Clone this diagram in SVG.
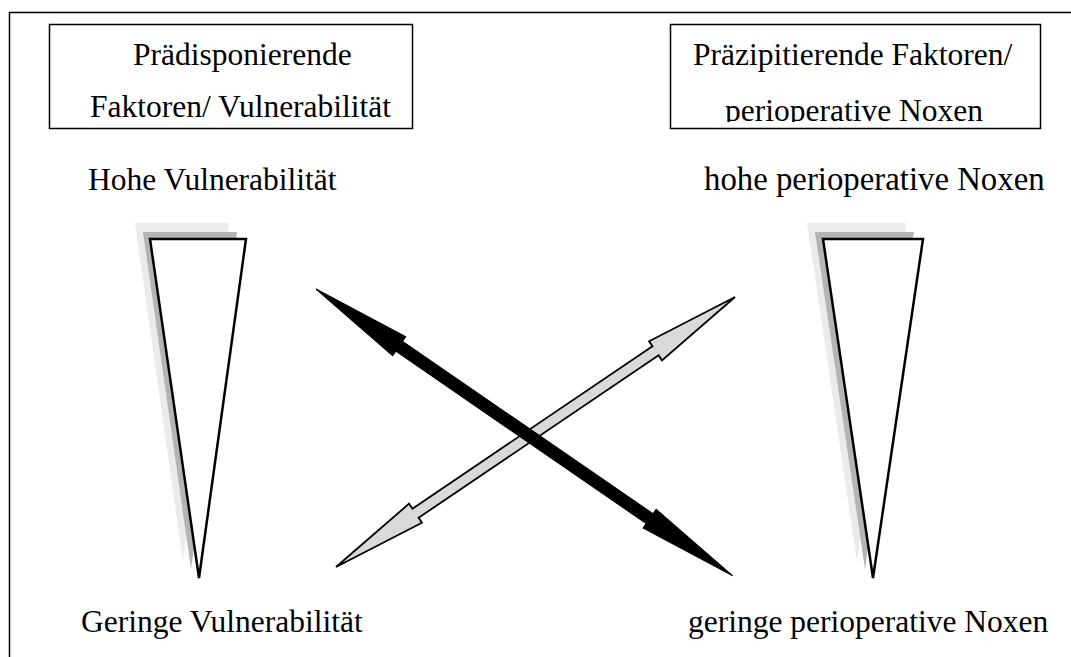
<svg xmlns="http://www.w3.org/2000/svg" width="1071" height="657" viewBox="0 0 1071 657">
<style>
text{font-family:"Liberation Serif","Times New Roman",serif;font-size:31.5px;fill:#000}
.box{fill:#fff;stroke:#000;stroke-width:1.5}
.tri{fill:#fff;stroke:#000;stroke-width:2.5;stroke-linejoin:miter}
.sh1{fill:#ebebeb}
.sh2{fill:#b4b4b4}
.blk{fill:#000;stroke:#000;stroke-width:1}
.gry{fill:#d9d9d9;stroke:#000;stroke-width:1.8;stroke-linejoin:miter}
</style>
<defs>
<clipPath id="clipR"><rect x="671" y="25" width="369" height="97"/></clipPath>
</defs>
<rect width="1071" height="657" fill="#fff"/>
<g id="frame">
<polyline points="9.5,657 9.5,12.5 1071,12.5" fill="none" stroke="#000" stroke-width="1.5"/>
</g>
<g id="box-left">
<rect class="box" x="49.5" y="24.5" width="363" height="104"/>
<text x="133" y="65">Prädisponierende</text>
<text x="90" y="117">Faktoren/ Vulnerabilität</text>
</g>
<g id="box-right">
<rect class="box" x="670.5" y="24.5" width="370" height="104"/>
<text x="693" y="65">Präzipitierende Faktoren/</text>
<text x="725" y="121" clip-path="url(#clipR)">perioperative Noxen</text>
</g>
<g id="label-hohe-vuln"><text x="88" y="190">Hohe Vulnerabilität</text></g>
<g id="label-geringe-vuln"><text x="81" y="632">Geringe Vulnerabilität</text></g>
<g id="label-hohe-nox"><text x="704" y="190" style="font-size:32.8px">hohe perioperative Noxen</text></g>
<g id="label-geringe-nox"><text x="688" y="632">geringe perioperative Noxen</text></g>
<g id="wedge-left">
<polygon class="sh1" points="135,223 229,223 183,562"/>
<polygon class="sh2" points="143,232 237,232 191,569"/>
<polygon class="tri" points="150,239 246,239 199,578"/>
</g>
<g id="wedge-right">
<polygon class="sh1" points="807,223 906,223 857,562"/>
<polygon class="sh2" points="815,232 914,232 865,569"/>
<polygon class="tri" points="823,239 923,239 873,578"/>
</g>
<g id="connectors">
<polygon class="gry" transform="translate(336,567) rotate(-34.08)" points="0,0 96,-11.5 96,-5.5 385.8,-5.5 385.8,-11.5 481.8,0 385.8,11.5 385.8,5.5 96,5.5 96,11.5"/>
<polygon class="blk" transform="translate(316,289) rotate(34.54)" points="0,0 101,-11.5 101,-6 405,-6 405,-11.5 506,0 405,11.5 405,6 101,6 101,11.5"/>
</g>
</svg>
